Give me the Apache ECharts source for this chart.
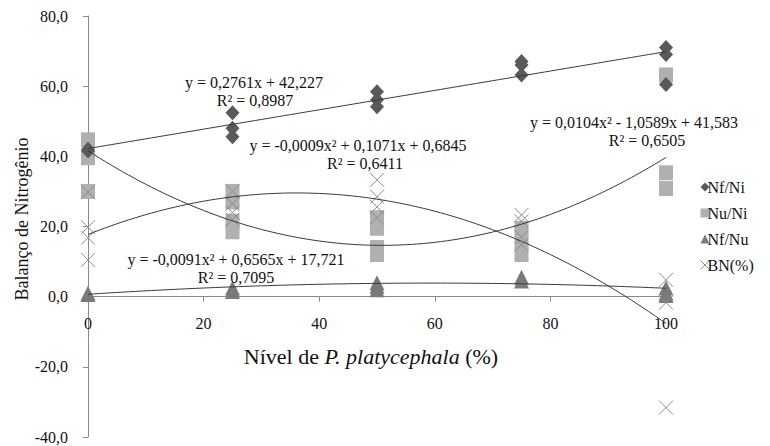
<!DOCTYPE html>
<html><head><meta charset="utf-8">
<script src="https://cdn.jsdelivr.net/npm/echarts@6/dist/echarts.min.js"></script>
<style>html,body{margin:0;padding:0;background:#fff}#c{width:770px;height:446px}</style>
</head><body><div id="c"></div>
<script>
// ---- data ----
const levels = [0, 25, 50, 75, 100];
const nfNi = [[42, 41.5], [52.4, 48, 45.6], [58.4, 56.1, 54.1], [67, 66, 63.2], [71, 69, 60.5]];
const nuNi = [[44.7, 39.6, 30], [30, 27, 21.5, 18.5], [22.5, 19.5, 14, 12], [19.5, 15.5, 12], [63.2, 35.3, 30.8]];
const nfNu = [[1, 0.6], [2.5, 1.5], [4, 3, 2], [5.5, 4.5], [2.5, 1, 0.3]];
const bn = [[29.8, 19.8, 16.8, 10.5], [30, 26.5, 24, 22], [33.3, 28.5, 25.6, 22.5], [23.3, 21.5, 17, 14.8], [4.8, -1.7, -31.6]];
const seriesNames = ['Nf/Ni', 'Nu/Ni', 'Nf/Nu', 'BN(%)'];
// trendline coefficients as printed on the chart: [x², x, const]
const trendNfNi = [0, 0.2761, 42.227];
const trendNuNi = [0.0104, -1.0589, 41.583];
const trendNfNu = [-0.0009, 0.1071, 0.6845];
const trendBN = [-0.0091, 0.6565, 17.721];
const eqNfNi = ['y = 0,2761x + 42,227', 'R² = 0,8987'];
const eqNuNi = ['y = 0,0104x² - 1,0589x + 41,583', 'R² = 0,6505'];
const eqNfNu = ['y = -0,0009x² + 0,1071x + 0,6845', 'R² = 0,6411'];
const eqBN = ['y = -0,0091x² + 0,6565x + 17,721', 'R² = 0,7095'];
const xTitle = ['Nível de ', 'P. platycephala', ' (%)'];
const yTitle = 'Balanço de Nitrogênio';
const yMin = -40, yMax = 80;

// ---- helpers ----
const FONT = "'Liberation Serif', 'Times New Roman', serif";
function pts(arr) { return levels.flatMap((lv, i) => arr[i].map(v => [lv, v])); }
function curve(c) {
  const out = [];
  for (let x = 0; x <= 100; x += 1) out.push([x, c[0] * x * x + c[1] * x + c[2]]);
  return out;
}
const X_PATH = 'path://M0,0L10,10M10,0L0,10';
const colors = ['#595959', '#b0b0b0', '#7a7a7a', '#8c8c8c'];
const AX = '#8a8a8a';

function trend(c) {
  return { type: 'line', data: curve(c), showSymbol: false, symbol: 'none', silent: true, z: 5,
    lineStyle: { color: '#3a3a3a', width: 1 }, legendHoverLink: false, tooltip: { show: false } };
}
function eqText(lines, cx, y1, y2) {
  const st = { fontFamily: FONT, fontSize: 16, fill: '#111', align: 'center', verticalAlign: 'middle' };
  return [
    { type: 'text', x: cx[0], y: y1, style: Object.assign({ text: lines[0] }, st), z: 20 },
    { type: 'text', x: cx[1], y: y2, style: Object.assign({ text: lines[1] }, st), z: 20 }
  ];
}

// layout: main plot box, plus a second grid whose bottom edge sits on y = 0
const H = 446, TOP = 16, BOTTOM = 9;
const plotH = H - TOP - BOTTOM;
const zeroFromBottom = BOTTOM + plotH * (0 - yMin) / (yMax - yMin);

const chart = echarts.init(document.getElementById('c'), null, { renderer: 'svg' });
chart.setOption({
  animation: false,
  backgroundColor: '#fff',
  grid: [
    { left: 88, right: 104, top: TOP, bottom: BOTTOM, containLabel: false, outerBoundsMode: 'none' },
    { left: 88, right: 104, top: TOP, bottom: zeroFromBottom, containLabel: false, outerBoundsMode: 'none' }
  ],
  xAxis: [
    { gridIndex: 0, type: 'value', min: 0, max: 100, interval: 20, show: false },
    { gridIndex: 1, type: 'value', min: 0, max: 100, interval: 20, position: 'bottom',
      axisLine: { show: true, onZero: false, lineStyle: { color: AX } },
      axisTick: { show: true, length: 5, lineStyle: { color: AX } },
      axisLabel: { fontFamily: FONT, fontSize: 16, color: '#111', margin: 19 },
      splitLine: { show: false } }
  ],
  yAxis: [
    { gridIndex: 0, type: 'value', min: yMin, max: yMax, interval: 20,
      axisLine: { show: true, lineStyle: { color: AX } },
      axisTick: { show: true, length: 5, lineStyle: { color: AX } },
      axisLabel: { fontFamily: FONT, fontSize: 16, color: '#111', margin: 20,
        formatter: v => v.toFixed(1).replace('.', ',') },
      splitLine: { show: false } },
    { gridIndex: 1, type: 'value', min: 0, max: 1, show: false }
  ],
  legend: {
    orient: 'vertical', left: 695, top: 174, itemGap: 10, itemWidth: 9, itemHeight: 9,
    textStyle: { fontFamily: FONT, fontSize: 16, color: '#111', padding: [0, 0, 0, -7], lineHeight: 16 },
    data: [
      { name: seriesNames[0], icon: 'diamond' },
      { name: seriesNames[1], icon: 'rect' },
      { name: seriesNames[2], icon: 'triangle' },
      { name: seriesNames[3], icon: X_PATH, itemStyle: { color: 'transparent', borderColor: colors[3], borderWidth: 1 } }
    ]
  },
  series: [
    { name: seriesNames[0], type: 'scatter', data: pts(nfNi), symbol: 'diamond', symbolSize: [14, 15],
      itemStyle: { color: colors[0], opacity: 1 }, z: 3 },
    { name: seriesNames[1], type: 'scatter', data: pts(nuNi), symbol: 'rect', symbolSize: [14, 15],
      itemStyle: { color: colors[1], opacity: 1 }, z: 2 },
    { name: seriesNames[2], type: 'scatter', data: pts(nfNu), symbol: 'triangle', symbolSize: [15, 15],
      itemStyle: { color: colors[2], opacity: 1 }, z: 3 },
    { name: seriesNames[3], type: 'scatter', data: pts(bn), symbol: X_PATH, symbolSize: 14,
      itemStyle: { color: 'transparent', borderColor: colors[3], borderWidth: 1, opacity: 1 }, z: 4 },
    trend(trendNfNi), trend(trendNuNi), trend(trendNfNu), trend(trendBN)
  ],
  graphic: [
    ...eqText(eqNfNi, [254, 255], 82, 100),
    ...eqText(eqNfNu, [358, 365], 145, 163),
    ...eqText(eqNuNi, [634, 647], 122, 140),
    ...eqText(eqBN, [236, 236], 259, 277),
    { type: 'text', x: 371, y: 356, z: 20,
      style: { text: '{a|' + xTitle[0] + '}{i|' + xTitle[1] + '}{a|' + xTitle[2] + '}',
        align: 'center', verticalAlign: 'middle',
        rich: { a: { fontFamily: FONT, fontSize: 22, fill: '#111' },
                i: { fontFamily: FONT, fontSize: 22, fontStyle: 'italic', fill: '#111' } } } },
    { type: 'text', x: 22, y: 219, rotation: Math.PI / 2, z: 20,
      style: { text: yTitle, fontFamily: FONT, fontSize: 18, fill: '#111', align: 'center', verticalAlign: 'middle' } }
  ]
});
</script>
</body></html>
